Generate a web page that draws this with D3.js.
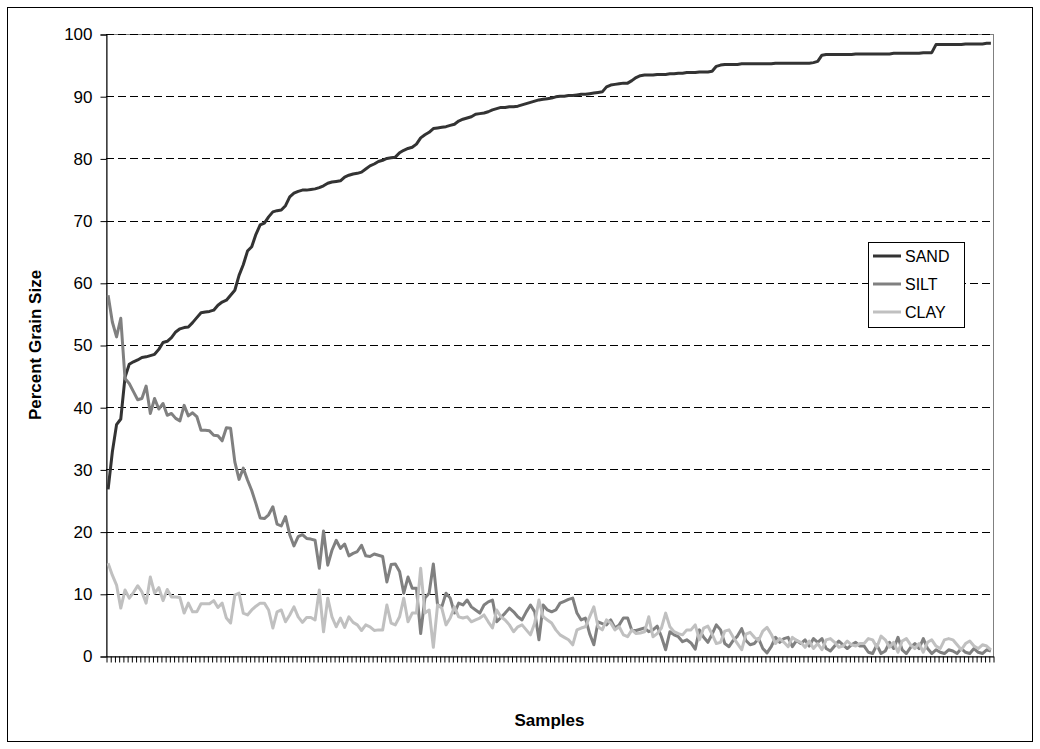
<!DOCTYPE html>
<html>
<head>
<meta charset="utf-8">
<script src="https://cdn.jsdelivr.net/npm/d3@7.9.0/dist/d3.min.js"></script>
<style>
  html, body { margin: 0; padding: 0; background: #fff; }
  svg { display: block; font-family: Arial, "Liberation Sans", sans-serif; }
</style>
</head>
<body>
<div id="chart"></div>
<script>
// Grain size percentages per sample, sorted by sand content
const sand = [
  26.8, 32.8, 37.2, 38.1, 44.8, 46.9, 47.3, 47.6, 48.0, 48.1,
  48.3, 48.5, 49.3, 50.4, 50.6, 51.2, 52.1, 52.6, 52.8, 52.9,
  53.6, 54.4, 55.2, 55.3, 55.4, 55.6, 56.4, 56.9, 57.2, 58.0,
  58.8, 61.2, 62.9, 65.1, 65.8, 67.8, 69.3, 69.6, 70.6, 71.4,
  71.6, 71.7, 72.4, 73.8, 74.4, 74.7, 74.9, 74.9, 75.0, 75.1,
  75.3, 75.6, 76.0, 76.2, 76.3, 76.4, 77.0, 77.3, 77.5, 77.6,
  77.8, 78.3, 78.8, 79.1, 79.5, 79.7, 80.0, 80.1, 80.2, 80.9,
  81.3, 81.6, 81.8, 82.3, 83.3, 83.8, 84.2, 84.8, 84.9, 85.0,
  85.1, 85.3, 85.5, 86.0, 86.3, 86.5, 86.7, 87.1, 87.2, 87.3,
  87.5, 87.8, 88.0, 88.2, 88.2, 88.3, 88.3, 88.4, 88.6, 88.8,
  89.0, 89.2, 89.4, 89.5, 89.6, 89.7, 89.9, 90.0, 90.0, 90.1,
  90.1, 90.2, 90.3, 90.3, 90.4, 90.5, 90.6, 90.7, 91.5, 91.8,
  91.9, 92.0, 92.1, 92.1, 92.5, 93.0, 93.3, 93.4, 93.4, 93.4,
  93.5, 93.5, 93.5, 93.6, 93.6, 93.7, 93.7, 93.8, 93.8, 93.8,
  93.9, 93.9, 93.9, 94.0, 94.8, 95.0, 95.1, 95.1, 95.1, 95.1,
  95.2, 95.2, 95.2, 95.2, 95.2, 95.2, 95.2, 95.2, 95.3, 95.3,
  95.3, 95.3, 95.3, 95.3, 95.3, 95.3, 95.3, 95.4, 95.6, 96.6,
  96.7, 96.7, 96.7, 96.7, 96.7, 96.7, 96.7, 96.8, 96.8, 96.8,
  96.8, 96.8, 96.8, 96.8, 96.8, 96.8, 96.9, 96.9, 96.9, 96.9,
  96.9, 96.9, 96.9, 97.0, 97.0, 97.0, 98.3, 98.3, 98.3, 98.3,
  98.3, 98.3, 98.3, 98.4, 98.4, 98.4, 98.4, 98.4, 98.5, 98.5
];

const silt = [
  58.0, 53.7, 51.3, 54.3, 44.6, 43.8, 42.5, 41.2, 41.4, 43.4,
  39.0, 41.4, 39.7, 40.6, 38.7, 39.0, 38.2, 37.8, 40.3, 38.6,
  39.1, 38.5, 36.3, 36.3, 36.2, 35.5, 35.4, 34.6, 36.7, 36.6,
  31.2, 28.4, 30.2, 28.3, 26.6, 24.5, 22.2, 22.1, 22.7, 24.0,
  21.2, 20.9, 22.4, 19.5, 17.7, 19.2, 19.5, 18.9, 18.8, 18.6,
  14.1, 20.1, 14.6, 17.0, 18.6, 17.3, 18.0, 16.1, 16.5, 16.8,
  17.8, 16.1, 16.0, 16.4, 16.2, 16.0, 11.9, 14.7, 14.8, 13.6,
  10.1, 12.7, 10.9, 10.9, 3.6,
  9.3, 10.1, 14.8, 8.2, 7.9, 10.1, 9.3, 6.9, 8.5, 8.2,
  9.0, 7.9, 7.4, 6.9, 8.2, 8.7, 9.0, 5.5, 6.2, 6.9,
  7.7, 7.1, 6.3, 5.8, 7.1, 8.2, 7.1, 2.6, 8.2, 7.4,
  7.1, 7.4, 8.5, 8.8, 9.1, 9.3, 6.9, 5.8, 6.1, 3.6,
  1.8, 5.5, 5.2, 5.0, 5.8, 4.5, 5.0, 6.1, 6.1, 4.1,
  4.1, 4.3, 4.5, 3.9, 4.2, 4.8, 3.1, 1.0, 3.9, 3.4,
  3.1, 2.3, 2.6, 2.1, 1.1, 4.2,
  3.0, 2.2, 3.5, 5.0, 4.2, 2.0, 1.5, 2.5, 3.2, 4.4,
  2.5, 1.8, 2.0, 2.8, 1.2, 0.5, 1.5, 3.0, 2.2, 2.8,
  3.0, 1.5, 2.5, 2.0, 2.6, 1.6, 2.8, 2.2, 2.8, 1.2,
  0.8, 1.6, 2.4, 1.8, 1.2, 1.8, 2.2, 1.6, 1.6, 0.6,
  0.4, 1.8, 0.4, 0.8, 2.2, 1.2, 3.0, 1.0, 0.4, 1.4,
  2.0, 1.2, 2.8, 1.2, 0.4, 1.0, 0.6, 0.4, 1.0, 0.8,
  0.4, 1.2, 0.6, 0.4, 1.2, 0.6, 0.4, 1.0, 0.8
];

const clay = [
  14.9, 13.0, 11.4, 7.7, 10.6, 9.3, 10.2, 11.3, 10.3, 8.5,
  12.7, 10.1, 11.0, 8.9, 10.7, 9.5, 9.5, 9.4, 6.9, 8.5,
  7.1, 7.1, 8.4, 8.4, 8.4, 8.9, 7.8, 8.5, 6.1, 5.3,
  9.8, 10.1, 6.9, 6.6, 7.4, 8.0, 8.5, 8.5, 7.4, 4.5,
  7.1, 7.4, 5.5, 6.6, 7.9, 6.3, 5.4, 6.2, 6.2, 5.8,
  10.6, 3.9, 9.3, 6.3, 4.7, 6.1, 4.6, 6.3, 5.4, 5.0,
  4.1, 5.0, 4.7, 4.1, 4.2, 4.2, 8.2, 5.3, 5.0, 6.3,
  9.3, 5.5, 6.9, 6.9, 14.1,
  6.9, 7.4, 1.4, 8.2, 7.7, 5.0, 6.1, 7.9, 6.3, 6.1,
  6.3, 5.5, 5.8, 6.1, 6.6, 5.5, 4.5, 7.4, 6.3, 5.8,
  5.0, 3.9, 4.7, 5.0, 4.2, 3.4, 5.3, 9.0, 6.3, 5.8,
  5.3, 4.2, 3.4, 3.0, 2.6, 1.8, 4.2, 4.5, 4.7, 6.3,
  7.9, 4.7, 4.2, 5.8, 5.3, 4.2, 4.7, 3.4, 3.1, 4.2,
  3.6, 3.7, 3.9, 6.3, 3.1, 3.6, 4.5, 6.9, 4.7, 3.9,
  3.6, 3.4, 4.2, 4.2, 5.0, 2.6,
  4.5, 4.8, 3.5, 2.0, 2.2, 4.0, 4.2, 3.0, 2.0, 1.0,
  3.5, 3.8, 3.0, 2.5, 4.0, 4.6, 3.5, 2.0, 2.8, 2.2,
  1.5, 3.0, 2.5, 2.2, 1.4, 2.4, 1.2, 2.0, 1.0, 2.6,
  2.8, 2.2, 1.4, 1.6, 2.4, 1.8, 1.6, 2.0, 2.0, 2.8,
  2.6, 1.4, 3.2, 2.6, 1.4, 2.2, 0.6, 2.4, 2.8, 1.8,
  1.2, 2.0, 0.6, 2.2, 2.6, 1.6, 1.2, 2.6, 2.8, 2.6,
  1.8, 1.0, 2.0, 2.4, 1.6, 1.2, 1.8, 1.6, 1.0
];

const samples = sand.map((d, i) => i + 1);
const seriesNames = ['SAND', 'SILT', 'CLAY'];
const seriesColors = ['#333333', '#808080', '#c0c0c0'];
const yTicks = [0, 10, 20, 30, 40, 50, 60, 70, 80, 90, 100];

const width = 1040, height = 749;
const plot = { left: 106, right: 993, top: 34, bottom: 656 };

const svg = d3.select('#chart').append('svg')
    .attr('width', width)
    .attr('height', height);

// chart area border
svg.append('rect')
    .attr('x', 7.5).attr('y', 7.5)
    .attr('width', 1025).attr('height', 734)
    .attr('fill', '#fff')
    .attr('stroke', '#000');

const x = d3.scaleBand()
    .domain(samples)
    .range([plot.left, plot.right])
    .padding(0);

const xTickScale = d3.scaleLinear()
    .domain([0, samples.length])
    .range([plot.left, plot.right]);

const y = d3.scaleLinear()
    .domain([0, 100])
    .range([plot.bottom, plot.top]);

// plot area border
svg.append('rect')
    .attr('x', plot.left + 0.5).attr('y', plot.top + 0.5)
    .attr('width', plot.right - plot.left).attr('height', plot.bottom - plot.top)
    .attr('fill', 'none')
    .attr('stroke', '#808080');

// dashed gridlines
svg.append('g')
    .selectAll('line')
    .data(yTicks.filter(d => d > 0))
    .enter()
    .append('line')
    .attr('x1', plot.left)
    .attr('x2', plot.right)
    .attr('y1', d => Math.round(y(d)) + 0.5)
    .attr('y2', d => Math.round(y(d)) + 0.5)
    .attr('stroke', '#000')
    .attr('stroke-dasharray', '8,4');

// y axis
const yAxis = svg.append('g')
    .attr('transform', `translate(${plot.left + 0.5},0.5)`)
    .call(d3.axisLeft(y).tickValues(yTicks).tickSize(6).tickPadding(8));
yAxis.select('.domain').attr('stroke', '#000');
yAxis.selectAll('text')
    .style('font-size', '17px')
    .attr('fill', '#000');

// x axis: one tick per category boundary, no labels
const xAxis = svg.append('g')
    .attr('transform', `translate(0.5,${plot.bottom + 0.5})`)
    .call(d3.axisBottom(xTickScale)
        .tickValues(d3.range(0, samples.length + 1))
        .tickSize(6)
        .tickSizeOuter(0)
        .tickFormat(''));
xAxis.select('.domain').attr('stroke', '#000');
xAxis.selectAll('.tick line').attr('stroke', '#000');

// series lines
const line = d3.line()
    .x((d, i) => x(samples[i]) + x.bandwidth() / 2)
    .y(d => y(d));

[sand, silt, clay].forEach((values, k) => {
    svg.append('path')
        .datum(values)
        .attr('fill', 'none')
        .attr('stroke', seriesColors[k])
        .attr('stroke-width', 3)
        .attr('stroke-linejoin', 'round')
        .attr('d', line);
});

// axis titles
svg.append('text')
    .attr('transform', `translate(41,${(plot.top + plot.bottom) / 2}) rotate(-90)`)
    .attr('text-anchor', 'middle')
    .style('font-size', '17px')
    .style('font-weight', 'bold')
    .text('Percent Grain Size');

svg.append('text')
    .attr('x', (plot.left + plot.right) / 2)
    .attr('y', 726)
    .attr('text-anchor', 'middle')
    .style('font-size', '17px')
    .style('font-weight', 'bold')
    .text('Samples');

// legend
const legend = svg.append('g').attr('transform', 'translate(868,242)');
legend.append('rect')
    .attr('x', 0.5).attr('y', 0.5)
    .attr('width', 96).attr('height', 85)
    .attr('fill', '#fff')
    .attr('stroke', '#000');

seriesNames.forEach((name, k) => {
    const ly = 14 + k * 28;
    legend.append('line')
        .attr('x1', 5).attr('x2', 33)
        .attr('y1', ly).attr('y2', ly)
        .attr('stroke', seriesColors[k])
        .attr('stroke-width', 3);
    legend.append('text')
        .attr('x', 37)
        .attr('y', ly + 6)
        .style('font-size', '16px')
        .text(name);
});
</script>
</body>
</html>
